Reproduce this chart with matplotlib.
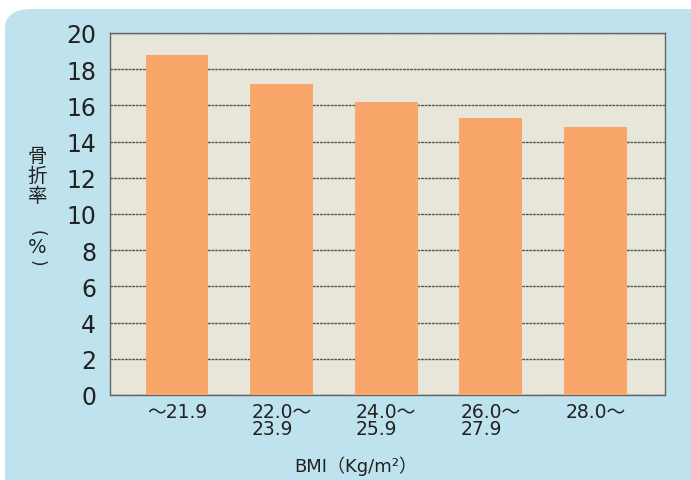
import matplotlib
matplotlib.use("Agg")
import matplotlib.pyplot as plt
from matplotlib.patches import FancyBboxPatch

plt.rcParams['font.family'] = ['DejaVu Sans', 'Noto Sans CJK JP']

categories = ["～21.9", "22.0～\n23.9", "24.0～\n25.9", "26.0～\n27.9", "28.0～"]
values = [18.8, 17.2, 16.2, 15.3, 14.8]
yticks = [0, 2, 4, 6, 8, 10, 12, 14, 16, 18, 20]

W, H = 691, 481
fig = plt.figure(figsize=(6.91, 4.81), dpi=100)
fig.patch.set_facecolor('white')

panel = FancyBboxPatch((5/W, -0.1), 720/W, 471/H + 0.1,
                       boxstyle="round,pad=0,rounding_size=0.04",
                       transform=fig.transFigure, facecolor='#bfe3ee',
                       edgecolor='none', zorder=-5)
fig.patches.append(panel)

ax = fig.add_axes([110/W, 85/H, 555/W, 362/H])
ax.set_zorder(2)
ax.set_facecolor('#e7e6d8')
x = list(range(len(categories)))
ax.bar(x, values, width=0.6, color='#f9a66b', zorder=3)
ax.set_xlim(-0.64, 4.665)
ax.set_ylim(0, 20)
ax.set_yticks(yticks)
ax.set_yticklabels([str(v) for v in yticks], fontsize=17, color='#222222')
ax.set_xticks(x)
ax.set_xticklabels(categories, fontsize=13.5, color='#222222', ha='center',
                   multialignment='left', linespacing=0.85)
ax.tick_params(length=0, pad=10, axis='y')
ax.tick_params(length=0, pad=5, axis='x')
ax.grid(axis='y', color='#555555', linewidth=1.0, linestyle=(0, (2, 0.6)), zorder=1)
for s in ax.spines.values():
    s.set_color('#666666')
    s.set_linewidth(1.0)

def fy(py):
    return 1 - py / H

fig.text(356/W, fy(466), "BMI（Kg/m²）", fontsize=13, ha='center', va='center', color='#222222')
cjk = ['Noto Sans CJK JP', 'DejaVu Sans']
for ch, py in [("骨", 157), ("折", 176), ("率", 196)]:
    fig.text(37/W, fy(py), ch, fontsize=14, ha='center', va='center', color='#222222', family=cjk)
fig.text(37/W, fy(233), "(", fontsize=12, ha='center', va='center', color='#222222',
         rotation=-90, family=['DejaVu Sans'])
fig.text(37/W, fy(248), "%", fontsize=14, ha='center', va='center', color='#222222')
fig.text(37/W, fy(263), ")", fontsize=12, ha='center', va='center', color='#222222',
         rotation=-90, family=['DejaVu Sans'])

fig.savefig("out.png", dpi=100, facecolor=fig.get_facecolor())
